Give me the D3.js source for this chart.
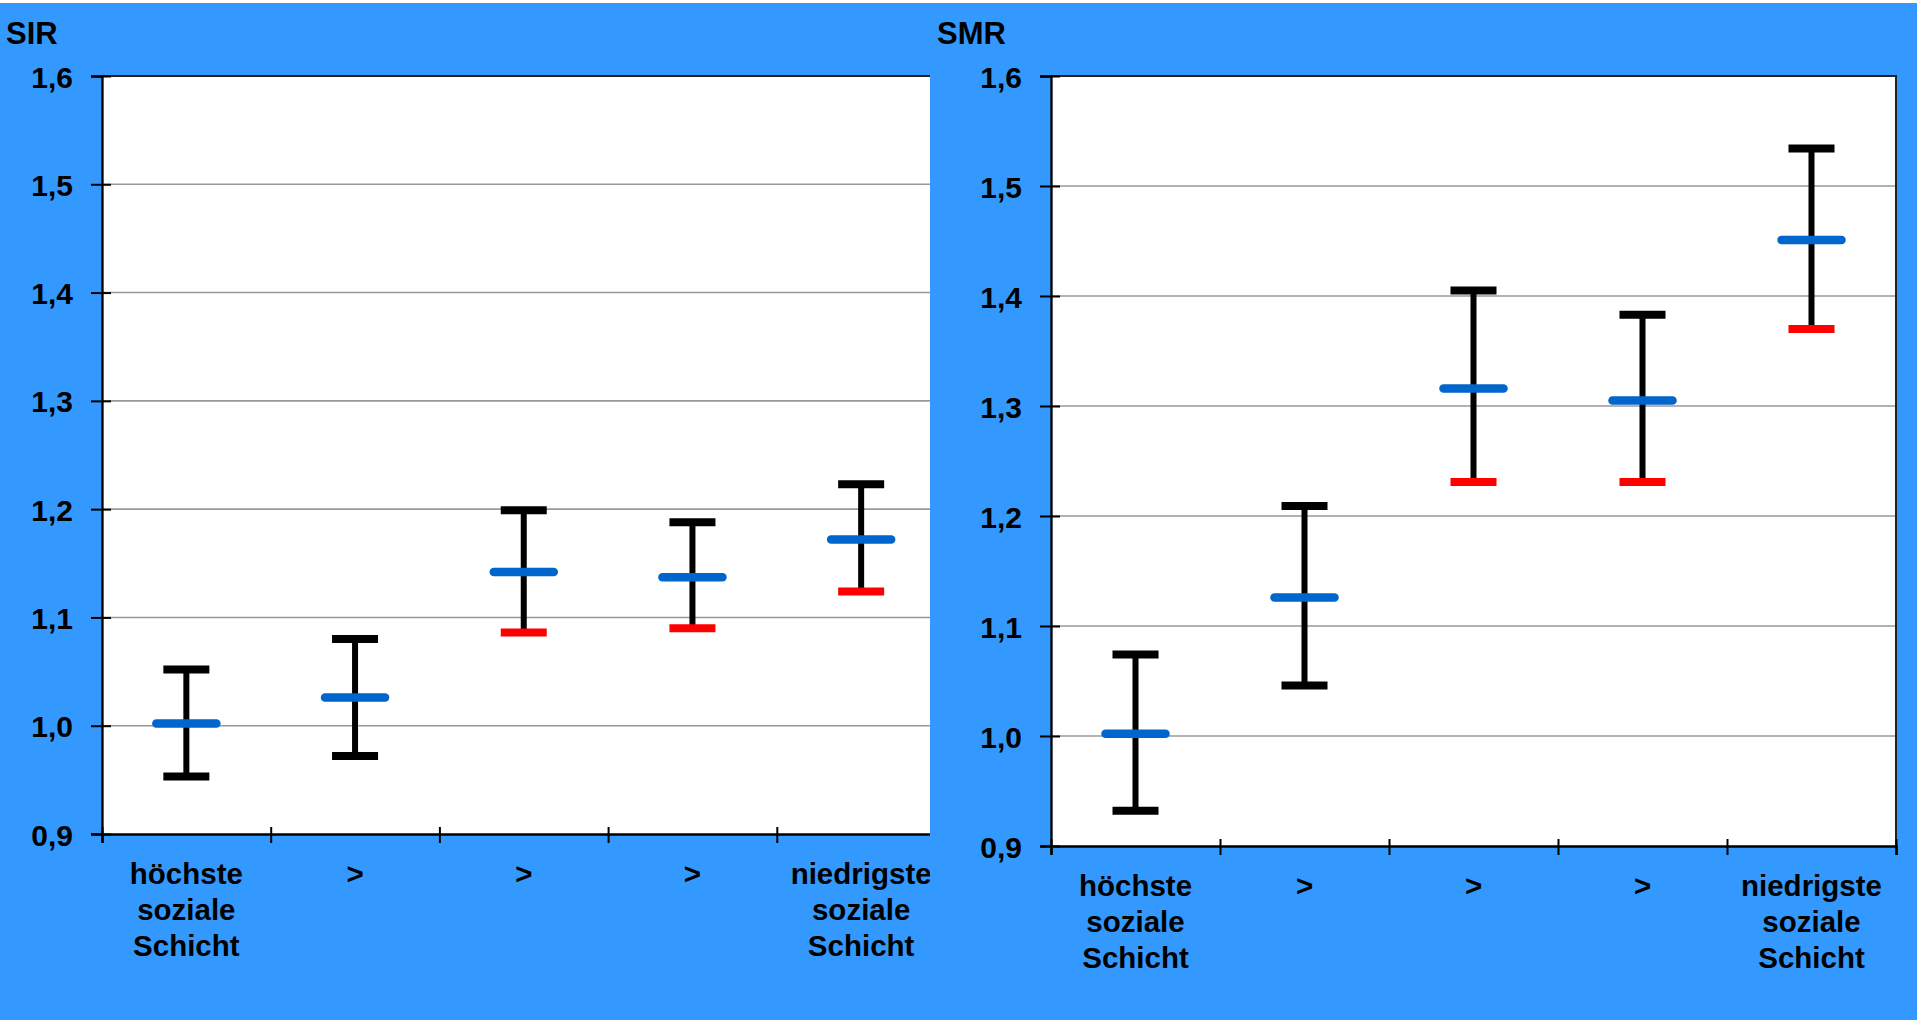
<!DOCTYPE html>
<html>
<head>
<meta charset="utf-8">
<script src="https://cdn.jsdelivr.net/npm/d3@7"></script>
<style>
  html, body { margin: 0; padding: 0; background: #fff; }
  svg { display: block; }
  text { font-family: "Liberation Sans", Arial, sans-serif; font-weight: bold; fill: #000; }
</style>
</head>
<body>
<div id="chart"></div>
<script>
// categories (each label split into lines)
var categories = [
    ["höchste", "soziale", "Schicht"],
    [">"],
    [">"],
    [">"],
    ["niedrigste", "soziale", "Schicht"]
];
var yTicks = [0.9, 1.0, 1.1, 1.2, 1.3, 1.4, 1.5, 1.6];

// SIR (left panel)
var sirMean = [1.002, 1.026, 1.142, 1.137, 1.172];
var sirLow  = [0.953, 0.972, 1.086, 1.090, 1.124];
var sirHigh = [1.052, 1.080, 1.199, 1.188, 1.223];
var sirRed  = [false, false, true, true, true];

// SMR (right panel)
var smrMean = [1.002, 1.126, 1.316, 1.305, 1.451];
var smrLow  = [0.932, 1.046, 1.231, 1.231, 1.370];
var smrHigh = [1.074, 1.209, 1.405, 1.383, 1.534];
var smrRed  = [false, false, true, true, true];

var W = 1917, H = 1020;
var blue = "#3399FF";

var svg = d3.select("#chart").append("svg")
    .attr("width", W)
    .attr("height", H);

var fmt = function (d) { return d.toFixed(1).replace(".", ","); };

function drawPanel(opts) {
    var g = svg.append("g");

    // panel background
    g.append("rect")
        .attr("x", opts.panelX).attr("y", 3)
        .attr("width", W - opts.panelX).attr("height", H - 3)
        .attr("fill", blue);

    var x = d3.scaleBand().domain(d3.range(categories.length)).range([opts.left, opts.right]);
    var xEdge = d3.scaleLinear().domain([0, categories.length]).range([opts.left, opts.right]);
    var y = d3.scaleLinear().domain([0.9, 1.6]).range([opts.bottom, opts.top]);

    // plot area
    g.append("rect")
        .attr("x", opts.left).attr("y", opts.top)
        .attr("width", opts.right - opts.left).attr("height", opts.bottom - opts.top)
        .attr("fill", "#fff");

    // gridlines
    g.selectAll(".grid")
        .data(yTicks.slice(1, -1))
        .enter().append("line")
        .attr("x1", opts.left).attr("x2", opts.right)
        .attr("y1", function (d) { return y(d); })
        .attr("y2", function (d) { return y(d); })
        .attr("stroke", "#999")
        .attr("stroke-width", 1.6);

    // frame top/right
    g.append("path")
        .attr("d", "M" + opts.left + "," + opts.top + "H" + opts.right + "V" + opts.bottom)
        .attr("fill", "none")
        .attr("stroke", "#222")
        .attr("stroke-width", 2);

    // y axis
    var yAxis = g.append("g")
        .attr("transform", "translate(" + opts.left + ",0)")
        .call(d3.axisLeft(y).tickValues(yTicks).tickSize(11).tickPadding(18).tickFormat(fmt));
    yAxis.select(".domain").attr("stroke", "#000").attr("stroke-width", 2.3);
    yAxis.selectAll(".tick line").attr("x1", 9).attr("stroke", "#000").attr("stroke-width", 2);
    yAxis.selectAll(".tick text")
        .attr("dy", "0.37em")
        .style("font-size", "30px")
        .style("font-family", "'Liberation Sans', Arial, sans-serif")
        .style("font-weight", "bold")
        .attr("fill", "#000");

    // x axis
    var xAxis = g.append("g")
        .attr("transform", "translate(0," + opts.bottom + ")")
        .call(d3.axisBottom(xEdge).tickValues(d3.range(categories.length + 1)).tickSize(9).tickFormat(""));
    xAxis.select(".domain").attr("stroke", "#000").attr("stroke-width", 2.5);
    xAxis.selectAll(".tick line").attr("y1", -7).attr("stroke", "#000").attr("stroke-width", 2);

    // category labels
    var labels = g.selectAll(".cat")
        .data(categories)
        .enter().append("text")
        .attr("class", "cat")
        .attr("text-anchor", "middle")
        .style("font-size", "29.5px");
    labels.selectAll("tspan")
        .data(function (d, i) { return d.map(function (s) { return { s: s, i: i }; }); })
        .enter().append("tspan")
        .attr("x", function (d) { return x(d.i) + x.bandwidth() / 2; })
        .attr("y", function (d, j) { return opts.bottom + 50 + j * 36; })
        .text(function (d) { return d.s; });

    // error bars
    var cx = function (d, i) { return x(i) + x.bandwidth() / 2; };
    var bars = g.selectAll(".bar")
        .data(opts.mean)
        .enter().append("g")
        .attr("class", "bar");

    bars.append("line")
        .attr("x1", cx).attr("x2", cx)
        .attr("y1", function (d, i) { return y(opts.high[i]); })
        .attr("y2", function (d, i) { return y(opts.low[i]); })
        .attr("stroke", "#000")
        .attr("stroke-width", 6);

    bars.append("line")
        .attr("x1", function (d, i) { return cx(d, i) - 23; })
        .attr("x2", function (d, i) { return cx(d, i) + 23; })
        .attr("y1", function (d, i) { return y(opts.high[i]); })
        .attr("y2", function (d, i) { return y(opts.high[i]); })
        .attr("stroke", "#000")
        .attr("stroke-width", 8);

    bars.append("line")
        .attr("x1", function (d, i) { return cx(d, i) - 23; })
        .attr("x2", function (d, i) { return cx(d, i) + 23; })
        .attr("y1", function (d, i) { return y(opts.low[i]); })
        .attr("y2", function (d, i) { return y(opts.low[i]); })
        .attr("stroke", function (d, i) { return opts.red[i] ? "#FF0000" : "#000"; })
        .attr("stroke-width", 8);

    bars.append("line")
        .attr("x1", function (d, i) { return cx(d, i) - 30; })
        .attr("x2", function (d, i) { return cx(d, i) + 30; })
        .attr("y1", function (d) { return y(d); })
        .attr("y2", function (d) { return y(d); })
        .attr("stroke", "#0066CC")
        .attr("stroke-width", 8.5)
        .attr("stroke-linecap", "round");

    // panel title
    g.append("text")
        .attr("x", opts.titleX).attr("y", 44)
        .style("font-size", "31px")
        .text(opts.title);
}

drawPanel({
    title: "SIR", titleX: 6, panelX: 0,
    left: 102, right: 945.5, top: 76, bottom: 834,
    mean: sirMean, low: sirLow, high: sirHigh, red: sirRed
});

drawPanel({
    title: "SMR", titleX: 937, panelX: 930,
    left: 1051, right: 1896, top: 76, bottom: 846,
    mean: smrMean, low: smrLow, high: smrHigh, red: smrRed
});
</script>
</body>
</html>
